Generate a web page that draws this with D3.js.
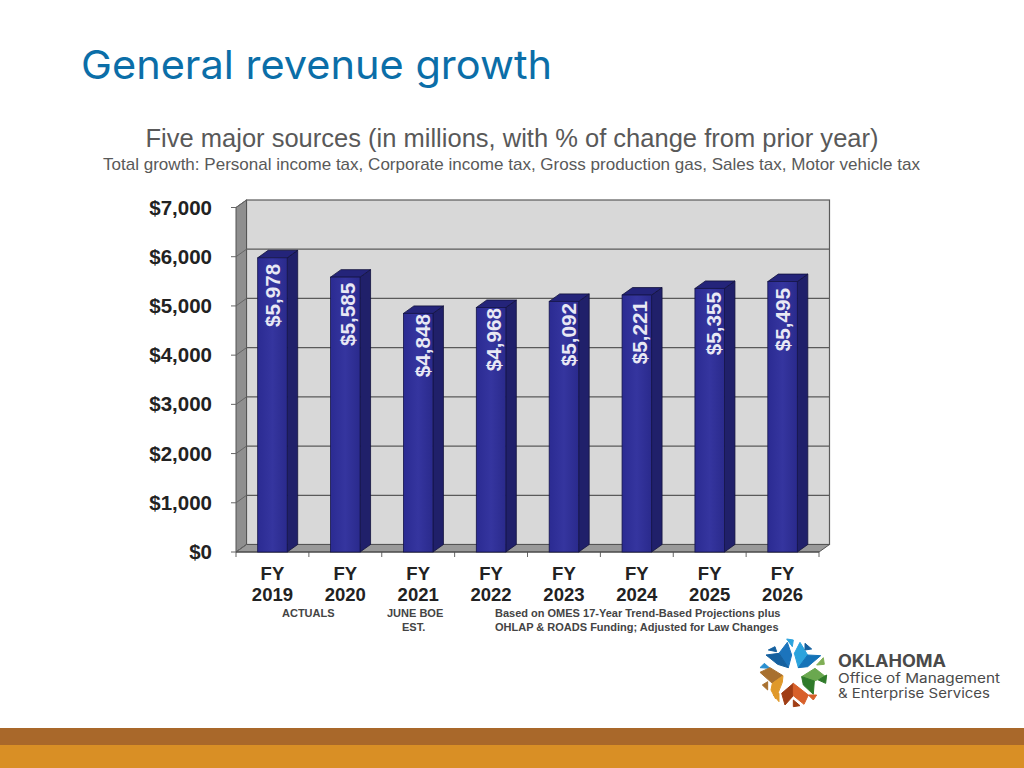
<!DOCTYPE html>
<html><head><meta charset="utf-8">
<script src="https://cdn.jsdelivr.net/npm/d3@7/dist/d3.min.js"></script>
<style>html,body{margin:0;padding:0;background:#fff}svg{display:block}</style></head>
<body><svg id="c" width="1024" height="768"></svg>
<script>
const years = ["2019","2020","2021","2022","2023","2024","2025","2026"];
const values = [5978,5585,4848,4968,5092,5221,5355,5495];
const valueLabels = ["$5,978","$5,585","$4,848","$4,968","$5,092","$5,221","$5,355","$5,495"];
const yTicks = [0,1000,2000,3000,4000,5000,6000,7000];
const titleText = "General revenue growth";
const subtitle1 = "Five major sources (in millions, with % of change from prior year)";
const subtitle2 = "Total growth: Personal income tax, Corporate income tax, Gross production gas, Sales tax, Motor vehicle tax";

// hand-placed offsets of the rotated value labels inside their bars
const labelNudgeX = [0.5,3,5,3,5,3,4,0];
const labelNudgeY = [6,5.7,0.6,0.5,1.5,6,3.5,6.4];

const svg = d3.select("#c");
const sans = "'Liberation Sans',Arial,sans-serif";
const dx = 10.5, dy = -7.5;
const x = d3.scaleBand().domain(years).range([236,819]).paddingInner(0.595).paddingOuter(0.2975);
const y = d3.scaleLinear().domain([0,7000]).range([552,207.5]);

// footer
svg.append("rect").attr("x",0).attr("y",728).attr("width",1024).attr("height",17).attr("fill","#a9682a");
svg.append("rect").attr("x",0).attr("y",745).attr("width",1024).attr("height",23).attr("fill","#d98f25");

// title
svg.append("text").attr("x",81).attr("y",79).attr("font-family","Inter,'Open Sans',sans-serif").attr("font-size",40)
  .attr("fill","#0b6ea8").attr("textLength",471).attr("lengthAdjust","spacingAndGlyphs").text(titleText);
svg.append("text").attr("x",512).attr("y",147).attr("text-anchor","middle").attr("font-family",sans).attr("font-size",25.5).attr("fill","#595959")
  .attr("textLength",733).attr("lengthAdjust","spacingAndGlyphs").text(subtitle1);
svg.append("text").attr("x",511.5).attr("y",170).attr("text-anchor","middle").attr("font-family",sans).attr("font-size",17).attr("fill","#595959")
  .attr("textLength",817).attr("lengthAdjust","spacingAndGlyphs").text(subtitle2);

// walls
const x0 = 236, x1 = 819;
svg.append("rect").attr("x",x0+dx).attr("y",y(7000)+dy).attr("width",x1-x0).attr("height",y(0)-y(7000))
  .attr("fill","#d8d8d8").attr("stroke","#5a5a5a").attr("stroke-width",1.2);
svg.append("polygon").attr("points",[[x0,y(7000)],[x0+dx,y(7000)+dy],[x0+dx,y(0)+dy],[x0,y(0)]].join(" "))
  .attr("fill","#8f8f8f").attr("stroke","#555").attr("stroke-width",1);
svg.append("polygon").attr("points",[[x0,y(0)],[x0+dx,y(0)+dy],[x1+dx,y(0)+dy],[x1,y(0)]].join(" "))
  .attr("fill","#9a9a9a").attr("stroke","#555").attr("stroke-width",1);

// gridlines & ticks
const g = svg.append("g");
yTicks.filter(d=>d>0&&d<7000).forEach(t=>{
  g.append("line").attr("x1",x0+dx).attr("x2",x1+dx).attr("y1",y(t)+dy).attr("y2",y(t)+dy).attr("stroke","#5a5a5a").attr("stroke-width",1.2);
});
yTicks.forEach(t=>{
  g.append("polyline").attr("points",[[x0-5,y(t)],[x0,y(t)],[x0+dx,y(t)+dy]].join(" ")).attr("fill","none").attr("stroke","#666").attr("stroke-width",1);
  g.append("text").attr("x",212).attr("y",y(t)+7).attr("text-anchor","end").attr("font-family",sans).attr("font-weight",700).attr("font-size",20.5).attr("fill","#222")
    .text("$"+d3.format(",")(t));
});
// x ticks
d3.range(0,years.length+1).forEach(i=>{
  const tx = x0+i*(x1-x0)/years.length;
  g.append("line").attr("x1",tx).attr("x2",tx).attr("y1",552).attr("y2",557).attr("stroke","#666");
});
g.append("line").attr("x1",x0).attr("x2",x1).attr("y1",552).attr("y2",552).attr("stroke","#444");

// gradient
const defs = svg.append("defs");
const grad = defs.append("linearGradient").attr("id","bar").attr("x1",0).attr("x2",1).attr("y1",0).attr("y2",0);
grad.append("stop").attr("offset","0").attr("stop-color","#2b2b92");
grad.append("stop").attr("offset","0.5").attr("stop-color","#35359f");
grad.append("stop").attr("offset","1").attr("stop-color","#2a2a8c");

// bars
const bars = svg.append("g").selectAll("g").data(years).join("g");
const w = x.bandwidth();
bars.append("polygon").attr("points",(d,i)=>{const l=x(d)+w,t=y(values[i]);return [[l,t],[l+dx,t+dy],[l+dx,y(0)+dy],[l,y(0)]].join(" ")})
  .attr("fill","#20206a").attr("stroke","#12123c").attr("stroke-width",.8);
bars.append("polygon").attr("points",(d,i)=>{const l=x(d),t=y(values[i]);return [[l,t],[l+dx,t+dy],[l+w+dx,t+dy],[l+w,t]].join(" ")})
  .attr("fill","#24247a").attr("stroke","#12123c").attr("stroke-width",.8);
bars.append("rect").attr("x",d=>x(d)).attr("y",(d,i)=>y(values[i])).attr("width",w).attr("height",(d,i)=>y(0)-y(values[i]))
  .attr("fill","url(#bar)").attr("stroke","#14144a").attr("stroke-width",.8);
bars.append("text").attr("transform",(d,i)=>`translate(${x(d)+w/2+7+labelNudgeX[i]},${y(values[i])+labelNudgeY[i]}) rotate(-90)`)
  .attr("text-anchor","end").attr("font-family",sans).attr("font-weight",700).attr("font-size",20.7).attr("fill","#e8e8f4").text((d,i)=>valueLabels[i]);

// x labels
const xl = svg.append("g").attr("font-family",sans).attr("font-weight",700).attr("font-size",18.5).attr("fill","#222").attr("text-anchor","middle");
years.forEach(d=>{
  const cx = x(d)+w/2;
  xl.append("text").attr("x",cx).attr("y",580).text("FY");
  xl.append("text").attr("x",cx).attr("y",601).text(d);
});
const notes = svg.append("g").attr("font-family",sans).attr("font-weight",700).attr("font-size",11).attr("fill","#444");
notes.append("text").attr("x",282).attr("y",617).text("ACTUALS");
notes.append("text").attr("x",387).attr("y",617).text("JUNE BOE");
notes.append("text").attr("x",402).attr("y",631).text("EST.");
notes.append("text").attr("x",495).attr("y",617).text("Based on OMES 17-Year Trend-Based Projections plus");
notes.append("text").attr("x",495).attr("y",631).text("OHLAP & ROADS Funding; Adjusted for Law Changes");

// logo star (decorative, traced)
const logoPieces = [
  ["#1c74bc",[[72,55],[97,22],[110,60],[100,98]]],
  ["#15609f",[[33,60],[72,55],[100,98],[68,88]]],
  ["#2ba3dd",[[118,55],[135,22],[158,60],[130,98]]],
  ["#1473b8",[[158,60],[197,62],[158,95],[130,98]]],
  ["#2ba3dd",[[95,12],[115,15],[112,35]]],
  ["#15609f",[[150,25],[170,42],[150,45]]],
  ["#15609f",[[40,45],[60,35],[65,50]]],
  ["#2a8fd0",[[15,98],[28,85],[45,100]]],
  ["#a8702f",[[15,112],[45,98],[84,122],[52,145]]],
  ["#e0992a",[[52,145],[84,122],[82,142],[62,192],[48,165]]],
  ["#a03d15",[[80,175],[115,145],[115,182],[90,210]]],
  ["#d8602a",[[115,145],[160,180],[147,208],[115,182]]],
  ["#6aa84f",[[140,125],[180,100],[212,125],[178,138]]],
  ["#2f7a2a",[[140,125],[178,138],[175,178],[145,150]]],
  ["#7fae55",[[185,90],[205,68],[208,88]]],
  ["#2f7a2a",[[190,135],[215,120],[212,145]]],
  ["#d8602a",[[160,180],[185,180],[175,195]]],
  ["#a03d15",[[115,195],[135,212],[115,215]]],
  ["#e0992a",[[55,180],[72,175],[72,200]]],
  ["#a8702f",[[22,150],[38,140],[38,165]]]
];
svg.append("g").attr("transform","translate(755,635) scale(0.3333)").selectAll("polygon").data(logoPieces).join("polygon")
  .attr("points",d=>d[1].join(" ")).attr("fill",d=>d[0]).attr("stroke",d=>d[0]).attr("stroke-width",3).attr("stroke-linejoin","round");

// logo text
const logoFont = "Inter,'Open Sans',sans-serif";
svg.append("text").attr("x",838).attr("y",667).attr("font-family",logoFont).attr("font-weight",700).attr("font-size",17).attr("fill","#4a4a4a").attr("textLength",108).attr("lengthAdjust","spacingAndGlyphs").text("OKLAHOMA");
svg.append("text").attr("x",838).attr("y",683).attr("font-family",logoFont).attr("font-size",13).attr("fill","#4a4a4a").attr("textLength",162).attr("lengthAdjust","spacingAndGlyphs").text("Office of Management");
svg.append("text").attr("x",838).attr("y",698).attr("font-family",logoFont).attr("font-size",13).attr("fill","#4a4a4a").attr("textLength",152).attr("lengthAdjust","spacingAndGlyphs").text("& Enterprise Services");
</script></body></html>
